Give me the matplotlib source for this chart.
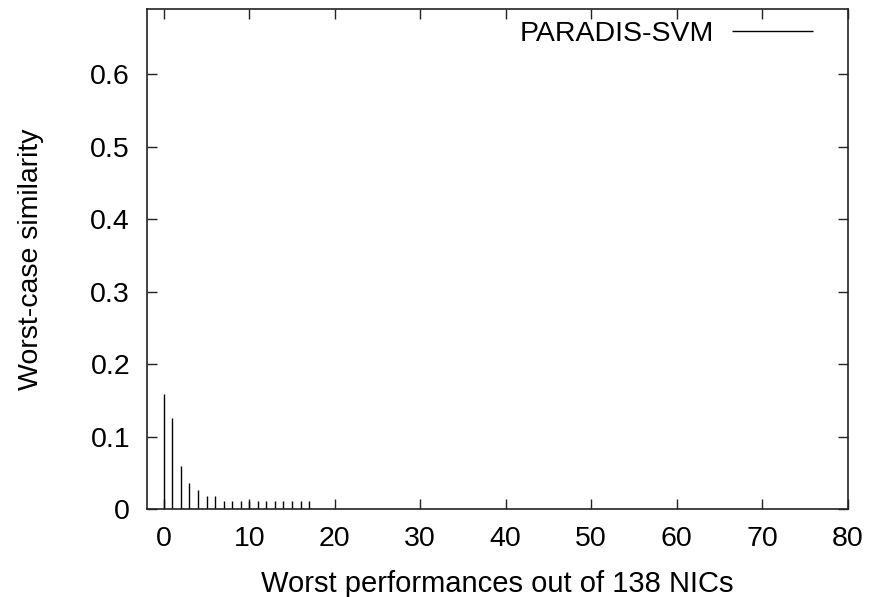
import numpy as np
import matplotlib
matplotlib.use("Agg")
import matplotlib.pyplot as plt
from matplotlib.ticker import FuncFormatter

# --- DATA ---
rank = list(range(18))
similarity = [0.159, 0.126, 0.059, 0.036, 0.026, 0.018, 0.018, 0.011, 0.011,
              0.011, 0.011, 0.011, 0.011, 0.011, 0.011, 0.011, 0.011, 0.011]
series_name = "PARADIS-SVM"
x_ticks = [0, 10, 20, 30, 40, 50, 60, 70, 80]
y_ticks = [0, 0.1, 0.2, 0.3, 0.4, 0.5, 0.6]

# --- STYLE ---
plt.rcParams['font.family'] = ['Liberation Sans', 'DejaVu Sans']
fs = 20.5

fig = plt.figure(figsize=(8.69, 5.97), dpi=100)
ax = fig.add_axes([0.1688, 0.1474, 0.8067, 0.837])

# impulses
ax.vlines(rank, 0, similarity, color='black', linewidth=1.0, label=series_name)

ax.set_xlim(-2, 80)
ax.set_ylim(0, 0.69)
ax.set_xticks(x_ticks)
ax.set_yticks(y_ticks)
ax.yaxis.set_major_formatter(FuncFormatter(lambda v, p: f"{v:g}"))

ax.tick_params(direction='in', length=7, width=1.0, top=True, right=True,
               labelsize=fs, pad=12, color='#222222')
for s in ax.spines.values():
    s.set_linewidth(1.2)
    s.set_color('#222222')

ax.set_xlabel("Worst performances out of 138 NICs", fontsize=fs + 0.5, labelpad=13)
ax.set_ylabel("Worst-case similarity", fontsize=fs, labelpad=33)

ax.legend(loc='upper right', bbox_to_anchor=(0.951, 0.977), frameon=False,
          markerfirst=False, fontsize=fs, handlelength=2.85, handletextpad=0.63,
          borderaxespad=0, borderpad=0)

plt.savefig("out.png", dpi=100)
